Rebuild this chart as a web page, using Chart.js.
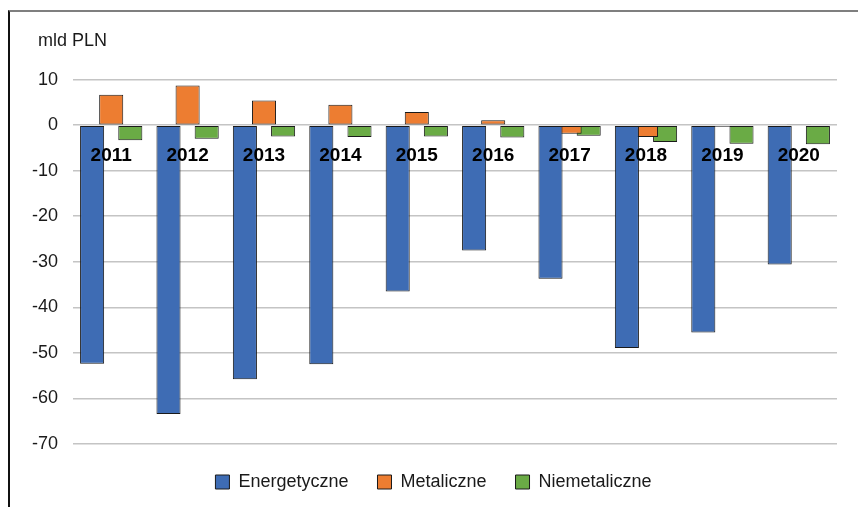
<!DOCTYPE html>
<html>
<head>
<meta charset="utf-8">
<script src="https://cdn.jsdelivr.net/npm/chart.js@4.4.1/dist/chart.umd.min.js"></script>
<style>
  body { margin: 0; background: #fff; overflow: hidden; }
  #frame { position: absolute; left: 8px; top: 10px; width: 900px; height: 600px;
           border-top: 2px solid #7f7f7f; border-left: 2px solid #111; }
  #chart { position: absolute; left: 0; top: 0; }
</style>
</head>
<body>
<div id="frame"></div>
<canvas id="chart" width="858" height="507"></canvas>
<script>
// values in mld PLN
const years = ['2011', '2012', '2013', '2014', '2015', '2016', '2017', '2018', '2019', '2020'];
const energetyczne = [-52.4, -63.4, -55.8, -52.5, -36.5, -27.5, -33.7, -48.9, -45.5, -30.6];
const metaliczne = [6.7, 8.7, 5.4, 4.5, 2.9, 1.1, -1.9, -2.6, -0.35, 0.2];
const niemetaliczne = [-3.3, -3.0, -2.5, -2.6, -2.5, -2.7, -2.3, -3.7, -4.1, -4.2];
const yTicks = [10, 0, -10, -20, -30, -40, -50, -60, -70];

Chart.defaults.font.family = "'Liberation Sans', Arial, sans-serif";
Chart.defaults.font.size = 18;
Chart.defaults.color = '#1a1a1a';

// title sits a bit to the right of the y tick labels
const titleShift = {
    id: 'titleShift',
    afterLayout(chart) {
        chart.titleBlock.left = 38;
    }
};

const config = {
    type: 'bar',
    data: {
        labels: years,
        datasets: [{
            label: 'Energetyczne',
            data: energetyczne,
            backgroundColor: '#3E6CB4',
            borderColor: '#1a1a1a',
            borderWidth: 1,
            borderSkipped: false
        }, {
            label: 'Metaliczne',
            data: metaliczne,
            backgroundColor: '#ED7D31',
            borderColor: '#1a1a1a',
            borderWidth: 1,
            borderSkipped: false
        }, {
            label: 'Niemetaliczne',
            data: niemetaliczne,
            backgroundColor: '#6AAB45',
            borderColor: '#1a1a1a',
            borderWidth: 1,
            borderSkipped: false
        }]
    },
    options: {
        responsive: false,
        animation: false,
        devicePixelRatio: 1,
        categoryPercentage: 0.75,
        barPercentage: 1.26,
        layout: {
            padding: { left: 30, right: 21, top: 20, bottom: 6 }
        },
        plugins: {
            title: {
                display: true,
                text: 'mld PLN',
                align: 'start',
                color: '#1a1a1a',
                font: { size: 18, weight: 'normal' },
                padding: { top: 10, bottom: 28 }
            },
            legend: {
                position: 'bottom',
                labels: {
                    boxWidth: 14,
                    boxHeight: 14,
                    padding: 29,
                    font: { size: 18 }
                }
            },
            tooltip: { enabled: false }
        },
        scales: {
            x: {
                position: { y: 0 },
                grid: { display: false, drawTicks: false },
                border: { display: false },
                ticks: {
                    z: 1,
                    padding: 19,
                    color: '#000',
                    font: { size: 19, weight: 'bold' }
                }
            },
            y: {
                min: -70,
                max: 10,
                afterFit: function(scale) { scale.width = 43; },
                afterBuildTicks: function(scale) {
                    scale.ticks = yTicks.map(v => ({ value: v }));
                },
                grid: { color: '#c4c4c4', lineWidth: 1.5, drawTicks: false },
                border: { display: false },
                ticks: { padding: 15, font: { size: 18 } }
            }
        }
    },
    plugins: [titleShift]
};

window.onload = function() {
    let ctx = document.getElementById('chart').getContext('2d');
    window.myBar = new Chart(ctx, config);
};
</script>
</body>
</html>
